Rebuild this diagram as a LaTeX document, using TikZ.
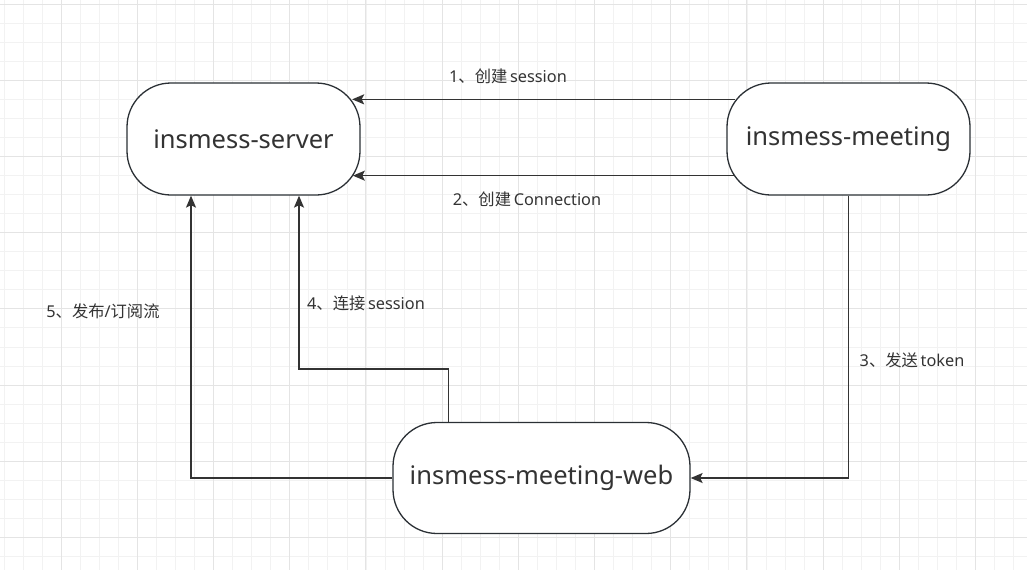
\documentclass[tikz,border=0pt]{standalone}
\usepackage{fontspec}
\usepackage{tikz}
\usetikzlibrary{arrows.meta}
\setmainfont{Noto Sans}
\newfontfamily\cjk{Noto Sans CJK SC}
\definecolor{gridminor}{HTML}{F2F2F2}
\definecolor{gridmajor}{HTML}{E4E4E4}
\definecolor{ink}{HTML}{333333}
\definecolor{edge}{HTML}{2B3035}

\begin{document}
\begin{tikzpicture}[x = 1pt, y = -1pt,
    box/.style = {draw=edge, line width=1.3pt, fill=white, rounded corners=44pt,
                  text=ink, inner sep=0pt, font=\fontsize{25.5}{30}\selectfont},
    flow/.style = {draw=ink, line width=1.5pt, -{Stealth[length=12pt, width=10pt, inset=2.5pt]}},
    lbl/.style = {text=ink, font=\fontsize{16.3}{19}\selectfont}]

        \useasboundingbox (0,0) rectangle (1027,570);
        \fill [white] (0,0) rectangle (1027,570);

        % background grid
        \foreach \i in {0,...,53}
            \draw [gridminor, line width=0.8pt] ({4+19.05*\i},0) -- ({4+19.05*\i},570);
        \foreach \j in {0,...,29}
            \draw [gridminor, line width=0.8pt] (0,{4+19.05*\j}) -- (1027,{4+19.05*\j});
        \foreach \i in {0,...,12}
            \draw [gridmajor, line width=0.9pt] ({61+76.2*\i},0) -- ({61+76.2*\i},570);
        \foreach \j in {0,...,7}
            \draw [gridmajor, line width=0.9pt] (0,{4+76.2*\j}) -- (1027,{4+76.2*\j});

        % services
        \node [box, minimum width=233pt, minimum height=112pt] (server) at (243.5,139) {insmess-server};
        \node [box, minimum width=243pt, minimum height=112pt] (meeting) at (848.5,139) {insmess-meeting};
        \node [box, minimum width=297pt, minimum height=111pt] (web) at (541.5,478) {insmess-meeting-web};

        % calls
        \draw [flow] ([shift={(8.5,17)}]meeting.north west) -- ([shift={(-8.5,17)}]server.north east);
        \draw [flow] ([shift={(7.8,-20)}]meeting.south west) -- ([shift={(-7.8,-20)}]server.south east);
        \draw [flow] (meeting.south) |- (web.east);
        \draw [flow] ([xshift=56pt]web.north west) -- ++(0,-53) -| ([xshift=55.5pt]server.south);
        \draw [flow] (web.west) -| ([xshift=-52.5pt]server.south);

        \node [lbl] (step1) at (508,76) {1{\cjk 、创建}\,session};
        \node [lbl] (step2) at (527,199) {2{\cjk 、创建}\,Connection};
        \node [lbl] (step3) at (912,360) {3{\cjk 、发送}\,token};
        \node [lbl] (step4) at (366,303) {4{\cjk 、连接}\,session};
        \node [lbl] (step5) at (103,311) {5{\cjk 、发布}/{\cjk 订阅流}};

\end{tikzpicture}
\end{document}
